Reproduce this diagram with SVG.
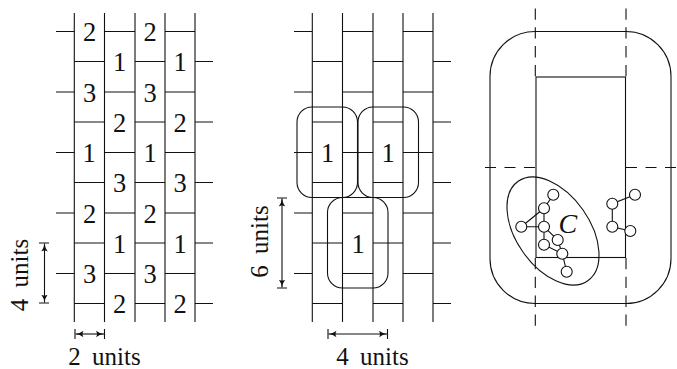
<svg xmlns="http://www.w3.org/2000/svg" width="677" height="369" viewBox="0 0 677 369">
<style>
.l{fill:none;stroke:#111;stroke-width:1.1}
.d{fill:none;stroke:#111;stroke-width:1.1;stroke-dasharray:11.3 7.5}
.h{fill:none;stroke:#111;stroke-width:1.1;stroke-dasharray:11 8.5}
.n{fill:#fff;stroke:#111;stroke-width:1.1}
text{font-family:"Liberation Serif","Times New Roman",serif;font-size:25px;fill:#111}
.c{text-anchor:middle;font-size:26.5px}
.u{text-anchor:middle;word-spacing:5px}
</style>
<defs>
<marker id="a" markerWidth="9" markerHeight="8" refX="8" refY="4" orient="auto-start-reverse" markerUnits="userSpaceOnUse"><path d="M0 0.7Q3.5 3.4 8 4Q3.5 4.6 0 7.3Q2 4 0 0.7Z" fill="#111"/></marker>
<g id="grid" class="l">
<path d="M74.3 13V322M104.500 13V322M135 13V322M165 13V322M195 13V322"/>
<path d="M56 31.500H74.300M104.500 31.500H135M165 31.500H195"/>
<path d="M74.300 61.500H104.500M135 61.500H165M195 61.500H213"/>
<path d="M56 92H74.300M104.500 92H135M165 92H195"/>
<path d="M74.300 122H104.500M135 122H165M195 122H213"/>
<path d="M56 152.500H74.300M104.500 152.500H135M165 152.500H195"/>
<path d="M74.300 182.500H104.500M135 182.500H165M195 182.500H213"/>
<path d="M56 213H74.300M104.500 213H135M165 213H195"/>
<path d="M74.300 243H104.500M135 243H165M195 243H213"/>
<path d="M56 273.500H74.300M104.500 273.500H135M165 273.500H195"/>
<path d="M74.300 303.500H104.500M135 303.500H165M195 303.500H213"/>
</g>
</defs>
<g id="left-grid">
<use href="#grid"/>
<text class="c" x="89.500" y="41">2</text><text class="c" x="89.500" y="101.500">3</text><text class="c" x="89" y="162">1</text><text class="c" x="89.500" y="222.500">2</text><text class="c" x="89.500" y="283">3</text>
<text class="c" x="119.500" y="71">1</text><text class="c" x="119.500" y="131.500">2</text><text class="c" x="119.500" y="192">3</text><text class="c" x="119.500" y="252.500">1</text><text class="c" x="119.500" y="313">2</text>
<text class="c" x="150" y="41">2</text><text class="c" x="150" y="101.500">3</text><text class="c" x="150" y="162">1</text><text class="c" x="150" y="222.500">2</text><text class="c" x="150" y="283">3</text>
<text class="c" x="180" y="71">1</text><text class="c" x="180" y="131.500">2</text><text class="c" x="180" y="192">3</text><text class="c" x="180" y="252.500">1</text><text class="c" x="180" y="313">2</text>
<path class="l" d="M39 243H49M39 303H49M75 329V339M104.500 329V339"/>
<path class="l" d="M44.500 243.500V302.500" marker-start="url(#a)" marker-end="url(#a)"/>
<path class="l" d="M75.500 334H104" marker-start="url(#a)" marker-end="url(#a)"/>
<text class="u" transform="translate(28 275) rotate(-90)">4 units</text>
<text class="u" x="104.500" y="365">2 units</text>
</g>
<g id="middle-grid">
<use href="#grid" x="238"/>
<rect class="l" x="297" y="107" width="60.500" height="90.500" rx="15"/>
<rect class="l" x="358" y="107" width="60.500" height="90.500" rx="15"/>
<rect class="l" x="327.500" y="197.500" width="60.500" height="90.500" rx="15"/>
<text class="c" x="327.500" y="162">1</text><text class="c" x="388" y="162">1</text><text class="c" x="358" y="252.500">1</text>
<path class="l" d="M277 198H287M277 288H287M328 329V339M387.500 329V339"/>
<path class="l" d="M282 198.500V287.500" marker-start="url(#a)" marker-end="url(#a)"/>
<path class="l" d="M328.500 334H387" marker-start="url(#a)" marker-end="url(#a)"/>
<text class="u" transform="translate(268 241.500) rotate(-90)">6 units</text>
<text class="u" x="372.500" y="365">4 units</text>
</g>
<g id="right-figure">
<rect class="l" x="490" y="31.500" width="181" height="272" rx="45"/>
<rect class="l" x="536" y="77" width="89.500" height="180.500"/>
<path class="d" d="M535.300 8.500V77M626 8.500V77M535.300 258V326M626 258V326"/>
<path class="h" d="M485 167.500H536M626 167.500H677"/>
<ellipse class="l" cx="553" cy="231" rx="36.700" ry="60.700" transform="rotate(-35 553 231)"/>
<g id="connectors">
<path class="l" d="M553.300 194.700L544 208.300L521.300 226.700H544V208.300M544 226.700L557.700 240L562.300 253.700L566.700 271.700M544 226.700V244.700L562.300 253.700"/>
<path class="l" d="M635 194.700L612.300 203.700V226.700L630.300 231"/>
</g>
<g id="n1"><circle class="n" cx="553.300" cy="194.700" r="5.500"/></g>
<g id="n2"><circle class="n" cx="544" cy="208.300" r="5.500"/></g>
<g id="n3"><circle class="n" cx="521.300" cy="226.700" r="5.500"/></g>
<g id="n4"><circle class="n" cx="544" cy="226.700" r="5.500"/></g>
<g id="n5"><circle class="n" cx="557.700" cy="240" r="5.500"/></g>
<g id="n6"><circle class="n" cx="544" cy="244.700" r="5.500"/></g>
<g id="n7"><circle class="n" cx="562.300" cy="253.700" r="5.500"/></g>
<g id="n8"><circle class="n" cx="566.700" cy="271.700" r="5.500"/></g>
<g id="n9"><circle class="n" cx="612.300" cy="203.700" r="5.500"/></g>
<g id="n10"><circle class="n" cx="635" cy="194.700" r="5.500"/></g>
<g id="n11"><circle class="n" cx="612.300" cy="226.700" r="5.500"/></g>
<g id="n12"><circle class="n" cx="630.300" cy="231" r="5.500"/></g>
<text x="558.500" y="233" font-style="italic" style="font-size:28px">C</text>
</g>
</svg>
